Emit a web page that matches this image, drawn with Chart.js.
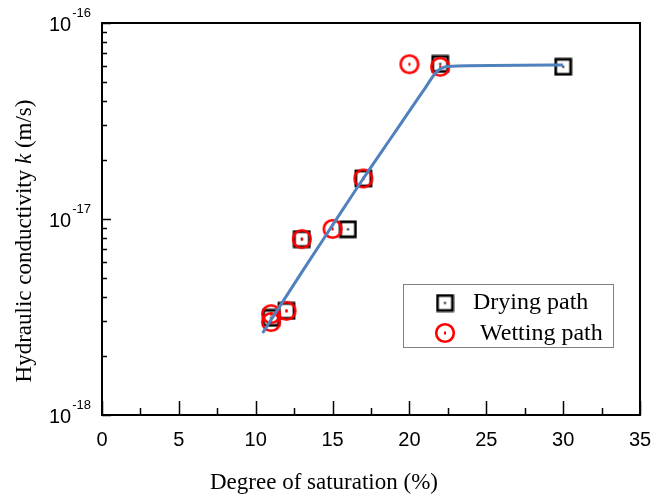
<!DOCTYPE html>
<html>
<head>
<meta charset="utf-8">
<script src="https://cdn.jsdelivr.net/npm/chart.js@4.4.0/dist/chart.umd.min.js"></script>
<style>
html, body { margin: 0; padding: 0; background: #fff; }
#wrap { width: 652px; height: 497px; position: relative; }
</style>
</head>
<body>
<div id="wrap"><canvas id="chart" width="652" height="497"></canvas></div>
<script>
// data
const dryingX = [11, 12, 13, 16, 17, 22, 30];
const dryingK = [3.13e-18, 3.4e-18, 7.9e-18, 8.86e-18, 1.61e-17, 6.18e-17, 5.98e-17];
const wettingX = [11, 11, 12, 13, 15, 17, 20, 22];
const wettingK = [3.27e-18, 2.98e-18, 3.4e-18, 7.9e-18, 8.9e-18, 1.61e-17, 6.16e-17, 5.98e-17];
const fitX = [10.45, 13, 15, 17, 19, 21, 21.8, 22.5, 30];
const fitK = [2.62e-18, 5.36e-18, 9.3e-18, 1.61e-17, 2.73e-17, 4.63e-17, 5.66e-17, 6.0e-17, 6.1e-17];
const xMajor = [0, 5, 10, 15, 20, 25, 30, 35];
const xMinor = [2.5, 7.5, 12.5, 17.5, 22.5, 27.5, 32.5];
const yDecades = [-18, -17, -16];
const seriesNames = ['Drying path', 'Wetting path'];

function makeSquare() {
    const c = document.createElement('canvas');
    c.width = 19; c.height = 19;
    const g = c.getContext('2d');
    g.strokeStyle = '#000';
    g.lineWidth = 2.8;
    g.strokeRect(2, 2, 15, 15);
    g.fillStyle = '#000';
    g.fillRect(8.5, 8.5, 2, 2);
    return c;
}

function makeCircle() {
    const c = document.createElement('canvas');
    c.width = 22; c.height = 22;
    const g = c.getContext('2d');
    g.strokeStyle = '#ff0000';
    g.lineWidth = 2.6;
    g.beginPath();
    g.arc(11, 11, 8.8, 0, Math.PI * 2);
    g.stroke();
    g.fillStyle = '#ff0000';
    g.fillRect(10, 9.5, 2, 3);
    return c;
}

const squareImg = makeSquare();
const circleImg = makeCircle();

function toPoints(xs, ys) {
    return xs.map((x, i) => ({ x: x, y: ys[i] }));
}

const SERIF = '"Liberation Serif", "Times New Roman", serif';
const SANS = '"Liberation Sans", Arial, sans-serif';

// ticks, tick labels, frame, titles and legend
const decorations = {
    id: 'decorations',
    afterDraw(chart) {
        const ctx = chart.ctx;
        const xs = chart.scales.x;
        const ys = chart.scales.y;
        const a = chart.chartArea;
        ctx.save();
        ctx.strokeStyle = '#000';
        ctx.lineWidth = 2;
        ctx.strokeRect(a.left, a.top, a.right - a.left, a.bottom - a.top);

        ctx.lineWidth = 1.5;
        ctx.beginPath();
        xMajor.forEach(v => {
            const px = Math.round(xs.getPixelForValue(v)) + 0.5;
            ctx.moveTo(px, a.bottom); ctx.lineTo(px, a.bottom - 14);
        });
        xMinor.forEach(v => {
            const px = Math.round(xs.getPixelForValue(v)) + 0.5;
            ctx.moveTo(px, a.bottom); ctx.lineTo(px, a.bottom - 7);
        });
        yDecades.forEach(e => {
            const py = Math.round(ys.getPixelForValue(Math.pow(10, e))) + 0.5;
            ctx.moveTo(a.left, py); ctx.lineTo(a.left + 9, py);
            if (e < -16) {
                for (let m = 2; m <= 9; m++) {
                    const pm = Math.round(ys.getPixelForValue(m * Math.pow(10, e))) + 0.5;
                    ctx.moveTo(a.left, pm); ctx.lineTo(a.left + 5, pm);
                }
            }
        });
        ctx.stroke();

        // y tick labels 10^n
        ctx.fillStyle = '#000';
        ctx.textBaseline = 'middle';
        yDecades.forEach(e => {
            const py = ys.getPixelForValue(Math.pow(10, e));
            ctx.font = '13px ' + SANS;
            const expText = String(e);
            ctx.textAlign = 'right';
            ctx.fillText(expText, a.left - 11, py - 10);
            const ew = ctx.measureText(expText).width;
            ctx.font = '20px ' + SANS;
            ctx.fillText('10', a.left - 11 - ew - 1, py + 2);
        });

        // axis titles
        ctx.font = '23px ' + SERIF;
        ctx.textAlign = 'center';
        ctx.fillText('Degree of saturation (%)', 324, 483);

        ctx.save();
        ctx.translate(25, 241);
        ctx.rotate(-Math.PI / 2);
        const parts = [['Hydraulic conductivity ', ''], ['k', 'italic '], [' (m/s)', '']];
        let total = 0;
        parts.forEach(p => {
            ctx.font = p[1] + '23px ' + SERIF;
            total += ctx.measureText(p[0]).width;
        });
        let tx = -total / 2;
        ctx.textAlign = 'left';
        parts.forEach(p => {
            ctx.font = p[1] + '23px ' + SERIF;
            ctx.fillText(p[0], tx, 0);
            tx += ctx.measureText(p[0]).width;
        });
        ctx.restore();

        // legend box
        ctx.strokeStyle = '#808080';
        ctx.lineWidth = 1;
        ctx.strokeRect(403.5, 284.5, 210, 63);
        ctx.drawImage(squareImg, 445 - 9.5, 303 - 9.5);
        ctx.drawImage(circleImg, 445 - 11, 333 - 11);
        ctx.fillStyle = '#000';
        ctx.textAlign = 'left';
        ctx.font = '24px ' + SERIF;
        ctx.fillText(seriesNames[0], 473, 303);
        ctx.fillText(seriesNames[1], 480, 334);
        ctx.restore();
    }
};

const canvas = document.getElementById('chart');
new Chart(canvas, {
    type: 'scatter',
    data: {
        datasets: [
            {
                type: 'line',
                label: 'fit',
                data: toPoints(fitX, fitK),
                borderColor: '#4f81bd',
                borderWidth: 3,
                pointRadius: 0,
                fill: false,
                cubicInterpolationMode: 'monotone',
                order: 0
            },
            {
                label: seriesNames[1],
                data: toPoints(wettingX, wettingK),
                pointStyle: circleImg,
                order: 1
            },
            {
                label: seriesNames[0],
                data: toPoints(dryingX, dryingK),
                pointStyle: squareImg,
                order: 2
            }
        ]
    },
    options: {
        responsive: false,
        animation: false,
        layout: { padding: { left: 0, top: 23, right: 0, bottom: 0 } },
        plugins: {
            legend: { display: false },
            tooltip: { enabled: false }
        },
        scales: {
            x: {
                type: 'linear',
                min: 0,
                max: 35,
                afterFit: s => {
                    s.height = 82;
                    s.paddingLeft = 0;
                    s.paddingRight = 12;
                },
                ticks: {
                    stepSize: 5,
                    color: '#000',
                    padding: 13,
                    font: { family: SANS, size: 20 }
                },
                grid: { display: false, drawTicks: false, tickLength: 0 },
                border: { display: false }
            },
            y: {
                type: 'logarithmic',
                min: 1e-18,
                max: 1e-16,
                afterFit: s => { s.width = 102; },
                ticks: { display: false },
                grid: { display: false, drawTicks: false, tickLength: 0 },
                border: { display: false }
            }
        }
    },
    plugins: [decorations]
});
</script>
</body>
</html>
